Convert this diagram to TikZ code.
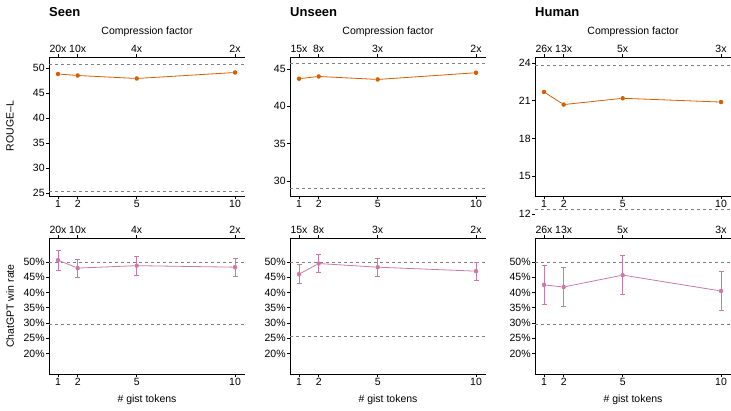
\documentclass[tikz,border=0pt]{standalone}
\usepackage{fontspec}
\setmainfont{Liberation Sans}
\usetikzlibrary{positioning}

\definecolor{rougeorange}{HTML}{D55E00}
\definecolor{winpink}{HTML}{CC79A7}

\tikzset{
  axis/.style = {black, line width=0.8pt},
  refline/.style = {gray, dashed, line width=0.7pt},
  lab/.style = {font=\fontsize{10.5}{12}\selectfont, inner sep=1pt},
  paneltitle/.style = {font=\bfseries\fontsize{13}{15}\selectfont, anchor=west, inner sep=0pt},
  dot/.style = {circle, fill=#1, inner sep=0pt, minimum size=4.5pt},
}

% x position of a gist-token count
\newcommand{\gx}[1]{58+(#1-1)*19.67}

% #1 prefix, #2 y of ref value, #3 ref value, #4 px per unit, #5 ticks, #6 dashes, #7 data, #8 ratios
\newcommand{\rougepanel}[8]{%
  \draw[axis] (49,57) -- (245,57);
  \draw[axis] (49,57) -- (49,196) -- (245,196);
  \foreach \d in {#6} \draw[refline] (49,{#2+(#3-\d)*#4}) -- (245,{#2+(#3-\d)*#4});
  \foreach \t in {#5} {
    \draw[axis] (49,{#2+(#3-\t)*#4}) -- ++(-3,0) node[lab, left] (#1y\t) {\t};
  }
  \foreach \n/\r in {#8} {
    \draw[axis] ({\gx{\n}},57) -- ++(0,-3) node[lab, above] (#1r\n) {\r};
    \draw[axis] ({\gx{\n}},196) -- ++(0,3) node[lab, below] (#1n\n) {\n};
  }
  \foreach \n/\v in {#7} \node[dot=rougeorange] (#1p\n) at ({\gx{\n}},{#2+(#3-\v)*#4}) {};
  \draw[rougeorange, line width=0.8pt] (#1p1) -- (#1p2) -- (#1p5) -- (#1p10);
  \node[lab] (#1cf) at (147,32) {Compression factor};
}

% #1 prefix, #2 ticks, #3 lower dash, #4 data n/v/e, #5 ratios
\newcommand{\winpanel}[5]{%
  \draw[axis] (49,238) -- (245,238);
  \draw[axis] (49,238) -- (49,374) -- (245,374);
  \foreach \d in {50,#3} \draw[refline] (49,{262+(50-\d)*3.05}) -- (245,{262+(50-\d)*3.05});
  \foreach \t in {#2} {
    \draw[axis] (49,{262+(50-\t)*3.05}) -- ++(-3,0) node[lab, left] (#1y\t) {\t\%};
  }
  \foreach \n/\r in {#5} {
    \draw[axis] ({\gx{\n}},238) -- ++(0,-3) node[lab, above] (#1r\n) {\r};
    \draw[axis] ({\gx{\n}},374) -- ++(0,3) node[lab, below] (#1n\n) {\n};
  }
  \foreach \n/\v/\e in {#4} {
    \coordinate (#1hi\n) at ({\gx{\n}},{262+(50-\v-\e)*3.05});
    \coordinate (#1lo\n) at ({\gx{\n}},{262+(50-\v+\e)*3.05});
    \draw[winpink, line width=0.8pt] (#1hi\n) -- (#1lo\n)
      (#1hi\n) ++(-2.5,0) -- ++(5,0) (#1lo\n) ++(-2.5,0) -- ++(5,0);
    \node[dot=winpink] (#1p\n) at ({\gx{\n}},{262+(50-\v)*3.05}) {};
  }
  \draw[winpink, line width=0.8pt] (#1p1) -- (#1p2) -- (#1p5) -- (#1p10);
  \node[lab] (#1gt) at (147,400) {\# gist tokens};
}

\begin{document}
\begin{tikzpicture}[x=1pt, y=-1pt]
  \useasboundingbox (0,0) rectangle (731,411);

  \node[lab, rotate=90] (rougelabel) at (10,126) {ROUGE–L};
  \node[lab, rotate=90] (winlabel) at (10,306) {ChatGPT win rate};

  % Seen
  \begin{scope}
    \node[paneltitle] (seen) at (49,12) {Seen};
    \rougepanel{st}{68}{50}{5}{25,30,35,40,45,50}{50.7,25.4}{1/48.8,2/48.5,5/47.9,10/49.1}{1/20x,2/10x,5/4x,10/2x}
    \winpanel{sb}{20,25,30,35,40,45,50}{29.7}{1/50.6/3.2,2/48/3,5/48.8/3.1,10/48.3/3}{1/20x,2/10x,5/4x,10/2x}
  \end{scope}

  % Unseen
  \begin{scope}[xshift=241pt]
    \node[paneltitle] (unseen) at (49,12) {Unseen};
    \rougepanel{ut}{69}{45}{7.47}{30,35,40,45}{45.8,29}{1/43.7,2/44,5/43.6,10/44.5}{1/15x,2/8x,5/3x,10/2x}
    \winpanel{ub}{20,25,30,35,40,45,50}{25.6}{1/46/3.1,2/49.5/3,5/48.3/3,10/47/3}{1/15x,2/8x,5/3x,10/2x}
  \end{scope}

  % Human
  \begin{scope}[xshift=486pt]
    \node[paneltitle] (human) at (49,12) {Human};
    \rougepanel{ht}{63}{24}{12.6}{12,15,18,21,24}{23.8,12.4}{1/21.7,2/20.7,5/21.2,10/20.9}{1/26x,2/13x,5/5x,10/3x}
    \winpanel{hb}{20,25,30,35,40,45,50}{29.7}{1/42.5/6.3,2/41.8/6.3,5/45.7/6.3,10/40.5/6.3}{1/26x,2/13x,5/5x,10/3x}
  \end{scope}
\end{tikzpicture}
\end{document}
